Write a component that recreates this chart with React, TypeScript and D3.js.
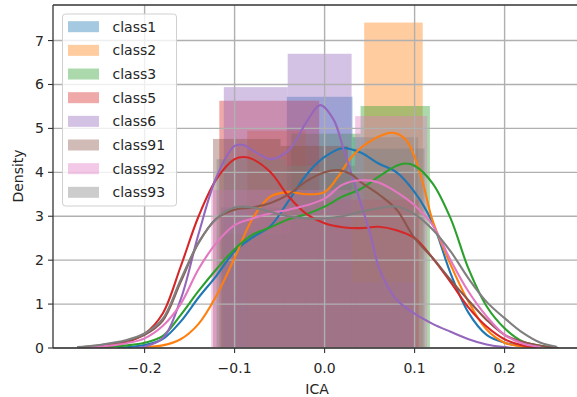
import * as d3 from 'd3';

const classes = ['class1', 'class2', 'class3', 'class5', 'class6', 'class91', 'class92', 'class93'];
const colors = ['#1f77b4', '#ff7f0e', '#2ca02c', '#d62728', '#9467bd', '#8c564b', '#e377c2', '#7f7f7f'];

// histogram bin edges / heights per class (density)
const histEdges = [
  [-0.115, -0.042, 0.031, 0.104],
  [-0.086, -0.021, 0.044, 0.109],
  [-0.114, -0.037, 0.04, 0.117],
  [-0.117, -0.006, 0.105],
  [-0.112, -0.041, 0.03, 0.101],
  [-0.124, -0.049, 0.026, 0.101],
  [-0.126, -0.046, 0.034, 0.114],
  [-0.12, -0.043, 0.034, 0.111],
];
const histHeights = [
  [3.2, 5.72, 4.8],
  [4.95, 3.02, 7.41],
  [2.6, 4.88, 5.51],
  [5.63, 3.38],
  [5.94, 6.7, 1.5],
  [4.76, 4.6, 3.97],
  [3.6, 3.6, 5.28],
  [4.3, 4.15, 4.54],
];

const class1Kde = [[-0.23, 0], [-0.2, 0.07], [-0.18, 0.2], [-0.16, 0.6], [-0.14, 1.15], [-0.12, 1.65], [-0.1, 2.2], [-0.08, 2.52], [-0.06, 2.78], [-0.04, 3.35], [-0.02, 3.95], [0, 4.35], [0.02, 4.55], [0.04, 4.45], [0.06, 4.2], [0.08, 4.0], [0.1, 3.55], [0.12, 2.85], [0.14, 1.7], [0.16, 0.8], [0.18, 0.3], [0.2, 0.12], [0.22, 0.04], [0.24, 0]];
const class2Kde = [[-0.2, 0.02], [-0.18, 0.06], [-0.16, 0.2], [-0.14, 0.55], [-0.12, 1.2], [-0.1, 2.05], [-0.08, 2.95], [-0.06, 3.45], [-0.04, 3.55], [-0.02, 3.5], [0, 3.55], [0.015, 3.9], [0.03, 4.35], [0.05, 4.7], [0.075, 4.9], [0.09, 4.75], [0.1, 4.35], [0.11, 3.7], [0.12, 2.9], [0.14, 1.9], [0.16, 1.05], [0.18, 0.42], [0.2, 0.12], [0.22, 0.03], [0.23, 0]];
const class3Kde = [[-0.25, 0.02], [-0.22, 0.06], [-0.2, 0.12], [-0.18, 0.27], [-0.16, 0.75], [-0.14, 1.3], [-0.12, 1.8], [-0.1, 2.25], [-0.08, 2.58], [-0.06, 2.75], [-0.04, 2.93], [-0.02, 3.05], [0, 3.22], [0.02, 3.45], [0.04, 3.62], [0.06, 3.9], [0.08, 4.15], [0.09, 4.2], [0.1, 4.15], [0.12, 3.75], [0.14, 2.95], [0.16, 1.8], [0.18, 0.95], [0.2, 0.45], [0.22, 0.15], [0.24, 0.05], [0.26, 0]];
const class5Kde = [[-0.26, 0.02], [-0.24, 0.05], [-0.22, 0.13], [-0.2, 0.32], [-0.18, 0.78], [-0.16, 1.85], [-0.14, 3.0], [-0.12, 3.85], [-0.1, 4.3], [-0.09, 4.35], [-0.08, 4.3], [-0.06, 4.0], [-0.04, 3.45], [-0.02, 3.05], [0, 2.84], [0.02, 2.75], [0.04, 2.73], [0.06, 2.76], [0.08, 2.68], [0.1, 2.5], [0.12, 2.05], [0.14, 1.5], [0.16, 0.92], [0.18, 0.49], [0.2, 0.2], [0.22, 0.06], [0.24, 0.01]];
const class6Kde = [[-0.21, 0], [-0.2, 0.03], [-0.18, 0.22], [-0.16, 1.1], [-0.14, 2.6], [-0.12, 3.9], [-0.1, 4.6], [-0.09, 4.62], [-0.08, 4.5], [-0.06, 4.3], [-0.04, 4.5], [-0.02, 5.15], [-0.005, 5.53], [0.01, 5.2], [0.02, 4.6], [0.03, 3.95], [0.04, 3.3], [0.05, 2.65], [0.06, 1.85], [0.07, 1.4], [0.08, 1.1], [0.1, 0.78], [0.12, 0.55], [0.14, 0.37], [0.16, 0.2], [0.18, 0.08], [0.2, 0.02], [0.21, 0]];
const class91Kde = [[-0.27, 0.02], [-0.25, 0.06], [-0.22, 0.16], [-0.2, 0.3], [-0.18, 0.62], [-0.16, 1.5], [-0.14, 2.4], [-0.12, 2.95], [-0.1, 3.15], [-0.08, 3.2], [-0.06, 3.3], [-0.04, 3.5], [-0.02, 3.8], [0, 4.0], [0.015, 4.05], [0.03, 3.95], [0.04, 3.78], [0.06, 3.5], [0.08, 3.15], [0.1, 2.5], [0.12, 2.05], [0.14, 1.55], [0.16, 1.08], [0.18, 0.64], [0.2, 0.3], [0.22, 0.14], [0.24, 0.05], [0.26, 0]];
const class92Kde = [[-0.26, 0.02], [-0.24, 0.05], [-0.22, 0.11], [-0.2, 0.22], [-0.18, 0.5], [-0.16, 1.0], [-0.14, 1.8], [-0.12, 2.4], [-0.1, 2.8], [-0.08, 2.95], [-0.06, 3.07], [-0.04, 3.15], [-0.02, 3.25], [0, 3.4], [0.02, 3.72], [0.04, 3.82], [0.06, 3.77], [0.08, 3.55], [0.1, 3.25], [0.12, 2.8], [0.14, 2.0], [0.16, 1.28], [0.18, 0.72], [0.2, 0.3], [0.22, 0.1], [0.24, 0.02]];
const class93Kde = [[-0.275, 0.02], [-0.25, 0.07], [-0.22, 0.18], [-0.2, 0.33], [-0.18, 0.66], [-0.16, 1.55], [-0.14, 2.4], [-0.12, 2.95], [-0.1, 3.2], [-0.08, 3.2], [-0.06, 3.1], [-0.04, 3.0], [-0.02, 2.95], [0, 2.95], [0.02, 3.0], [0.04, 3.1], [0.06, 3.18], [0.08, 3.22], [0.1, 3.05], [0.12, 2.7], [0.14, 2.2], [0.16, 1.58], [0.18, 1.05], [0.2, 0.68], [0.22, 0.35], [0.24, 0.12], [0.258, 0.03]];
const kdes = [class1Kde, class2Kde, class3Kde, class5Kde, class6Kde, class91Kde, class92Kde, class93Kde];

const xTicks = [-0.2, -0.1, 0.0, 0.1, 0.2];
const yTicks = [0, 1, 2, 3, 4, 5, 6, 7];

const W = 577;
const H = 397;
const font = 'DejaVu Sans, sans-serif';

export default function App() {
  const x = d3.scaleLinear().domain([-0.302, 0.285]).range([52.8, 581.1]);
  const y = d3.scaleLinear().domain([0, 7.81]).range([348, 5]);
  const line = d3
    .line<number[]>()
    .x((d) => x(d[0]))
    .y((d) => Math.min(y(0), y(d[1])))
    .curve(d3.curveCatmullRom.alpha(0.5));

  const fmtX = (v: number) => (v < 0 ? '\u2212' + Math.abs(v).toFixed(1) : v.toFixed(1));

  return (
    <svg width={W} height={H} style={{ position: 'absolute', left: 0, top: 0, background: '#fff' }}>
      <defs>
        <clipPath id="plot">
          <rect x={x(-0.302)} y={5} width={W - x(-0.302)} height={343} />
        </clipPath>
      </defs>
      {/* histograms */}
      <g clipPath="url(#plot)">
        {histHeights.map((hs, ci) =>
          hs.map((h, bi) => (
            <rect
              key={`${ci}-${bi}`}
              x={x(histEdges[ci][bi])}
              y={y(h)}
              width={x(histEdges[ci][bi + 1]) - x(histEdges[ci][bi])}
              height={y(0) - y(h)}
              fill={colors[ci]}
              fillOpacity={0.4}
            />
          ))
        )}
      </g>
      {/* grid */}
      <g stroke="#b0b0b0" strokeWidth={1.4}>
        {xTicks.map((t) => (
          <line key={`gx${t}`} x1={x(t)} x2={x(t)} y1={5} y2={348} />
        ))}
        {yTicks.map((t) => (
          <line key={`gy${t}`} x1={53} x2={W} y1={y(t)} y2={y(t)} />
        ))}
      </g>
      {/* kde lines */}
      <g fill="none" strokeWidth={2.1} clipPath="url(#plot)">
        {kdes.map((k, i) => (
          <path key={classes[i]} d={line(k) || ''} stroke={colors[i]} />
        ))}
      </g>
      {/* spines */}
      <g stroke="#333" strokeWidth={1.3}>
        <line x1={53} x2={53} y1={5} y2={348} />
        <line x1={53} x2={W} y1={348} y2={348} />
        <line x1={53} x2={W} y1={5} y2={5} />
      </g>
      {/* ticks */}
      <g fontFamily={font} fontSize={14} fill="#262626">
        {xTicks.map((t) => (
          <g key={`tx${t}`}>
            <line x1={x(t)} x2={x(t)} y1={348} y2={353} stroke="#333" strokeWidth={1.1} />
            <text x={x(t)} y={373} textAnchor="middle">
              {fmtX(t)}
            </text>
          </g>
        ))}
        {yTicks.map((t) => (
          <g key={`ty${t}`}>
            <line x1={48} x2={53} y1={y(t)} y2={y(t)} stroke="#333" strokeWidth={1.1} />
            <text x={44} y={y(t) + 5} textAnchor="end">
              {t}
            </text>
          </g>
        ))}
        <text x={317} y={394} textAnchor="middle">
          ICA
        </text>
        <text transform="translate(23,176) rotate(-90)" textAnchor="middle">
          Density
        </text>
      </g>
      {/* legend */}
      <g fontFamily={font} fontSize={14} fill="#262626">
        <rect x={62.5} y={14} width={114} height={192} rx={3} fill="#fff" fillOpacity={0.8} stroke="#d0d0d0" />
        {classes.map((c, i) => {
          const cy = 26.7 + i * 23.66;
          return (
            <g key={c}>
              <rect x={68} y={cy - 5.5} width={31} height={11} fill={colors[i]} fillOpacity={0.4} />
              <text x={112.5} y={cy + 5}>
                {c}
              </text>
            </g>
          );
        })}
      </g>
    </svg>
  );
}
